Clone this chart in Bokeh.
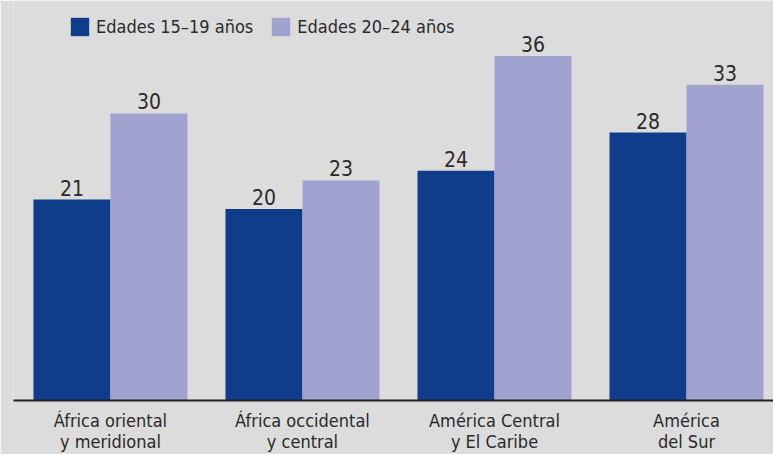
from bokeh.plotting import figure
from bokeh.models import Range1d, FixedTicker, ColumnDataSource, Legend, LegendItem
from bokeh.core.properties import value
from bokeh.embed import file_html
from bokeh.resources import INLINE

categories = ["África oriental\ny meridional", "África occidental\ny central",
              "América Central\ny El Caribe", "América\ndel Sur"]
series_names = ["Edades 15\u201319 años", "Edades 20\u201324 años"]
ages_15_19 = [21, 20, 24, 28]
ages_20_24 = [30, 23, 36, 33]

FONT = "'Liberation Sans Narrow', 'DejaVu Sans Condensed', sans-serif"
BG = "#dcdcdc"
DARK = "#103c8c"
LIGHT = "#a0a2cf"
TXT = "#2a2a2a"

idx = list(range(len(categories)))
bw = 0.401
off = bw / 2

p = figure(width=773, height=454, output_backend="svg", toolbar_location=None,
           x_range=Range1d(-0.505, 3.453), y_range=Range1d(0, 41.8),
           min_border_left=13, min_border_right=0, min_border_top=0, min_border_bottom=54)
p.background_fill_color = BG
p.border_fill_color = BG
p.outline_line_color = None
p.grid.visible = False
p.yaxis.visible = False

s1 = ColumnDataSource(dict(x=[i - off for i in idx], y=ages_15_19, t=[str(v) for v in ages_15_19]))
s2 = ColumnDataSource(dict(x=[i + off for i in idx], y=ages_20_24, t=[str(v) for v in ages_20_24]))

r1 = p.vbar(x="x", top="y", width=bw, source=s1, fill_color=DARK, line_color=None)
r2 = p.vbar(x="x", top="y", width=bw, source=s2, fill_color=LIGHT, line_color=None)

for s in (s1, s2):
    p.text(x="x", y="y", text="t", source=s, text_align="center", text_baseline="bottom",
           y_offset=-4, text_font=value(FONT), text_font_size="21px", text_color=TXT)

ax = p.xaxis[0]
ax.ticker = FixedTicker(ticks=idx)
ax.major_label_overrides = {i: c for i, c in zip(idx, categories)}
ax.major_tick_line_color = None
ax.minor_tick_line_color = None
ax.axis_line_color = "#231f20"
ax.axis_line_width = 2
ax.major_label_standoff = 3
ax.major_label_text_font = FONT
ax.major_label_text_font_size = "18px"
ax.major_label_text_color = TXT
ax.major_label_text_line_height = 1.0

legend = Legend(items=[LegendItem(label=series_names[0], renderers=[r1]),
                       LegendItem(label=series_names[1], renderers=[r2])],
                location=(55, 362), orientation="horizontal",
                glyph_width=23, glyph_height=23, label_standoff=5, spacing=16,
                padding=0, margin=0, border_line_color=None, background_fill_alpha=0,
                label_text_font=FONT, label_text_font_size="18px", label_text_color=TXT,
                label_height=23)
p.add_layout(legend)

open("out.html", "w").write(file_html(p, INLINE))
